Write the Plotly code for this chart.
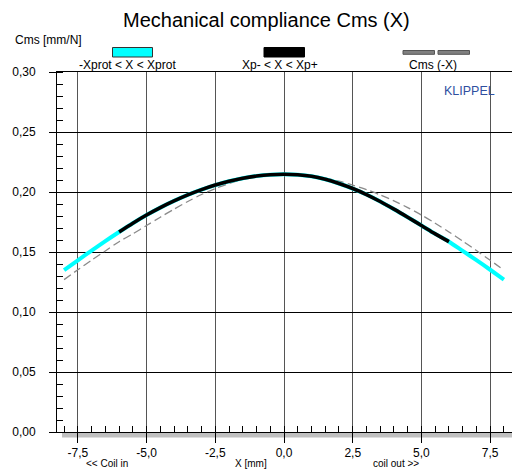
import plotly.graph_objects as go

# ---- data ----
x_mm = [-8.0, -7.5, -7.0, -6.5, -6.0, -5.5, -5.0, -4.5, -4.0, -3.5, -3.0, -2.5, -2.0,
        -1.5, -1.0, -0.5, 0.0, 0.5, 1.0, 1.5, 2.0, 2.5, 3.0, 3.5, 4.0, 4.5, 5.0,
        5.5, 6.0, 6.5, 7.0, 7.5, 8.0]
cms = [0.1349, 0.1431, 0.1512, 0.1591, 0.1667, 0.1740, 0.1808, 0.1870, 0.1926,
       0.1976, 0.2020, 0.2058, 0.2090, 0.2115, 0.2133, 0.2144, 0.2148, 0.2144,
       0.2131, 0.2106, 0.2071, 0.2029, 0.1979, 0.1921, 0.1857, 0.1790, 0.1721,
       0.1651, 0.1586, 0.1509, 0.1432, 0.1352, 0.1270]
xp_minus, xp_plus = -6.0, 6.0

x_tickvals = [-7.5, -5.0, -2.5, 0.0, 2.5, 5.0, 7.5]
x_ticktext = ["-7,5", "-5,0", "-2,5", "0,0", "2,5", "5,0", "7,5"]
y_tickvals = [0.0, 0.05, 0.10, 0.15, 0.20, 0.25, 0.30]
y_ticktext = ["0,00", "0,05", "0,10", "0,15", "0,20", "0,25", "0,30"]

# mirrored curve Cms(-X)
cms_mirror = cms[::-1]
inner = [(x, y) for x, y in zip(x_mm, cms) if xp_minus <= x <= xp_plus]

W, H = 512, 473
L, R, T, B = 57, 0, 72, 41
PW, PH = W - L - R, H - T - B


def px(xp):
    return (xp - L) / PW


def py(yp):
    return (H - B - yp) / PH


FONT = "Arial, Liberation Sans, sans-serif"

fig = go.Figure()
fig.add_trace(go.Scatter(x=x_mm, y=cms_mirror, mode="lines",
                         line=dict(color="#8a8a8a", width=1.3, dash="8px,4px", shape="spline", smoothing=0.8),
                         showlegend=False, hoverinfo="skip"))
fig.add_trace(go.Scatter(x=x_mm, y=cms, mode="lines",
                         line=dict(color="#00ffff", width=4, shape="spline", smoothing=0.8),
                         showlegend=False, hoverinfo="skip"))
fig.add_trace(go.Scatter(x=[p[0] for p in inner], y=[p[1] for p in inner], mode="lines",
                         line=dict(color="#000000", width=3.6, shape="spline", smoothing=0.8),
                         showlegend=False, hoverinfo="skip"))

fig.update_layout(
    width=W, height=H,
    margin=dict(l=L, r=R, t=T, b=B),
    paper_bgcolor="white", plot_bgcolor="white",
    font=dict(family=FONT, size=12, color="black"),
    showlegend=False,
)
fig.update_xaxes(
    range=[-8.258, 8.294],
    tickvals=x_tickvals, ticktext=x_ticktext,
    ticks="outside", ticklen=10, tickcolor="black", tickwidth=1,
    showgrid=True, gridcolor="#555555", gridwidth=1,
    showline=True, linecolor="black", linewidth=1, mirror=True,
    zeroline=False,
    minor=dict(dtick=0.5, tick0=0, ticks="inside", ticklen=6, tickcolor="black", showgrid=False),
    tickfont=dict(family=FONT, size=12),
    ticklabelstandoff=0,
)
fig.update_yaxes(
    range=[0, 0.3],
    tickvals=y_tickvals, ticktext=y_ticktext,
    ticks="outside", ticklen=7, tickcolor="black", tickwidth=1,
    showgrid=True, gridcolor="black", gridwidth=1,
    showline=True, linecolor="black", linewidth=1,
    zeroline=False,
    minor=dict(dtick=0.01, tick0=0, ticks="inside", ticklen=6, tickcolor="black", showgrid=False),
    tickfont=dict(family=FONT, size=12),
    ticklabelstandoff=11,
)

shapes = []
# grey band under the x axis
shapes.append(dict(type="rect", xref="paper", yref="paper",
                   x0=px(62), x1=1.0, y0=py(437.5), y1=py(432.5),
                   fillcolor="#c0c0c0", line=dict(width=0), layer="below"))
# legend swatches
shapes.append(dict(type="rect", xref="paper", yref="paper",
                   x0=px(112.5), x1=px(152.5), y0=py(57), y1=py(47.5),
                   fillcolor="#00ffff", line=dict(color="#333333", width=1)))
shapes.append(dict(type="rect", xref="paper", yref="paper",
                   x0=px(264), x1=px(304.5), y0=py(57), y1=py(47.5),
                   fillcolor="#000000", line=dict(color="#000000", width=1)))
for a, b in [(403, 434.5), (438, 469.5)]:
    shapes.append(dict(type="rect", xref="paper", yref="paper",
                       x0=px(a), x1=px(b), y0=py(54.3), y1=py(50.5),
                       fillcolor="#808080", line=dict(color="#555555", width=1)))
fig.update_layout(shapes=shapes)


def ann(text, x, y, size, color="black", xanchor="center"):
    return dict(text=text, xref="paper", yref="paper", x=px(x), y=py(y),
                xanchor=xanchor, yanchor="middle", showarrow=False,
                font=dict(family=FONT, size=size, color=color))


annotations = [
    ann("Mechanical compliance Cms (X)", 266, 20, 20),
    ann("Cms [mm/N]", 13, 40, 12, xanchor="left"),
    ann("-Xprot &lt; X &lt; Xprot", 127.5, 65, 12),
    ann("Xp- &lt; X &lt; Xp+", 280, 65, 12),
    ann("Cms (-X)", 432.5, 65, 12),
    ann("KLIPPEL", 469, 90.5, 12.5, color="#2f4f9f"),
    ann("&lt;&lt; Coil in", 106.5, 464, 10),
    ann("X [mm]", 251, 464, 10),
    ann("coil out &gt;&gt;", 395.5, 464, 10),
]
fig.update_layout(annotations=annotations)

fig.write_html("out.html", config={"displayModeBar": False},
               post_script="document.body.style.margin='0';document.body.style.overflow='hidden';")
